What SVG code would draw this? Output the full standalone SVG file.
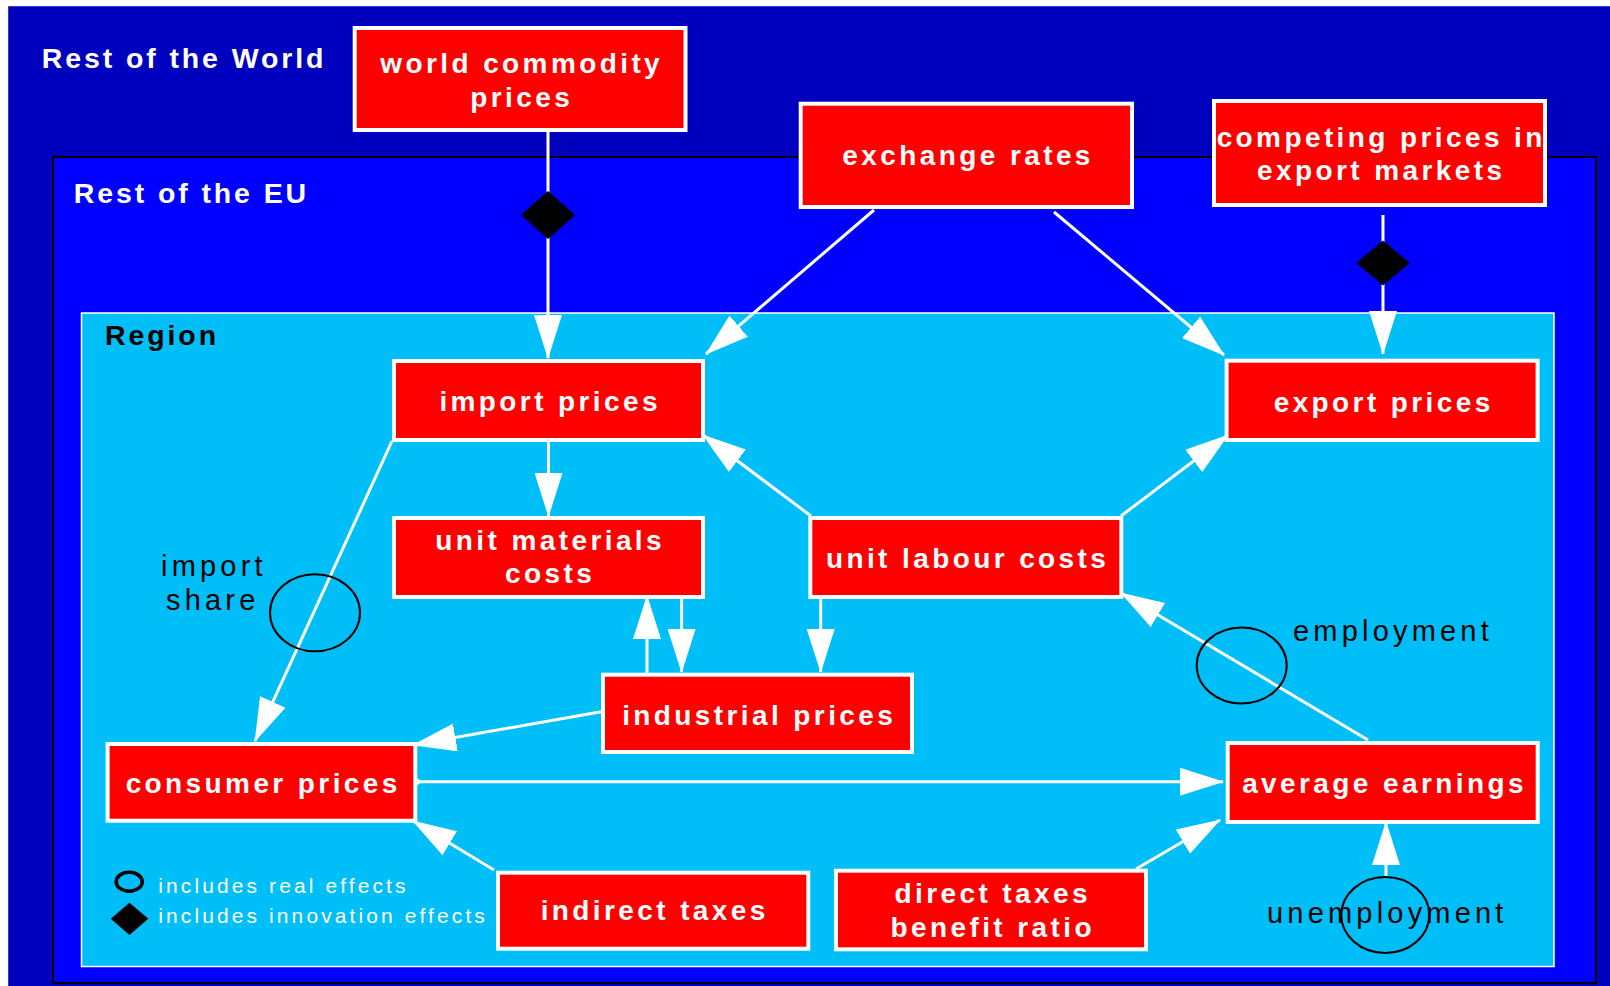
<svg xmlns="http://www.w3.org/2000/svg" width="1610" height="986" viewBox="0 0 1610 986">
<defs>
<style>
.box{fill:#ff0000;stroke:#ffffff;stroke-width:4}
.bt{font-family:"Liberation Sans",Arial,sans-serif;font-weight:bold;font-size:28px;letter-spacing:3.4px;fill:#ffffff;text-anchor:middle}
.hd{font-family:"Liberation Sans",Arial,sans-serif;font-weight:bold;font-size:28.5px;letter-spacing:2.9px}
.lb{font-family:"Liberation Sans",Arial,sans-serif;font-size:29px;letter-spacing:4.2px;fill:#000000}
.lg{font-family:"Liberation Sans",Arial,sans-serif;font-size:21px;letter-spacing:3.1px;fill:#ffffff}
.ln{stroke:#ffffff;stroke-width:3;fill:none}
.ar{marker-end:url(#ah)}
.ring{fill:none;stroke:#000000;stroke-width:2}
</style>
<marker id="ah" markerUnits="userSpaceOnUse" markerWidth="44" markerHeight="28" viewBox="0 0 44 28" refX="43" refY="14" orient="auto">
<path d="M0,0 L44,14 L0,28 Z" fill="#ffffff"/>
</marker>
</defs>
<rect x="0" y="0" width="1610" height="986" fill="#ffffff"/>
<g id="rest-of-world">
<rect x="8.5" y="6.5" width="1602" height="981" fill="#0000bf" stroke="#3a3ad0" stroke-width="1"/>
<text class="hd" x="41.7" y="67.7" fill="#ffffff">Rest of the World</text>
</g>
<g id="rest-of-eu">
<rect x="53" y="157" width="1543" height="826" fill="#0000ff" stroke="#000000" stroke-width="2"/>
<text class="hd" x="73.7" y="203.3" fill="#ffffff">Rest of the EU</text>
</g>
<g id="region">
<rect x="81.5" y="313" width="1472.5" height="653.5" fill="#00bff8" stroke="#ffffff" stroke-width="1.5"/>
<text class="hd" x="105" y="345" fill="#000000">Region</text>
</g>

<g id="connectors">
<line class="ln ar" x1="548" y1="132" x2="548" y2="358"/>
<line class="ln ar" x1="874" y1="210" x2="706" y2="354"/>
<line class="ln ar" x1="1054" y1="212" x2="1224" y2="355"/>
<line class="ln ar" x1="1383" y1="215" x2="1383" y2="354"/>
<line class="ln ar" x1="548.5" y1="441" x2="548.5" y2="516"/>
<line class="ln ar" x1="392" y1="441" x2="255" y2="741"/>
<line class="ln ar" x1="811" y1="516" x2="703" y2="435"/>
<line class="ln ar" x1="1121" y1="516" x2="1228" y2="435"/>
<line class="ln ar" x1="681.6" y1="599" x2="681.6" y2="672"/>
<line class="ln ar" x1="647" y1="673" x2="647" y2="596"/>
<line class="ln ar" x1="820.7" y1="599" x2="820.7" y2="672"/>
<line class="ln ar" x1="601" y1="711.7" x2="413" y2="745"/>
<line class="ln ar" x1="494" y1="870" x2="413" y2="821"/>
<line class="ln ar" x1="417" y1="781.7" x2="1223" y2="781.7"/>
<circle cx="417" cy="781.7" r="3" fill="#ffffff"/>
<line class="ln ar" x1="1136" y1="869" x2="1220" y2="820"/>
<line class="ln ar" x1="1386" y1="878" x2="1386" y2="822"/>
<line class="ln ar" x1="1368" y1="740" x2="1121" y2="593"/>
<polygon points="548,191 575,215 548,239 521,215" fill="#000000"/>
<polygon points="1383,240.5 1409.7,263 1383,285.5 1356.3,263" fill="#000000"/>
<ellipse class="ring" cx="315" cy="612.7" rx="45" ry="38.5"/>
<ellipse class="ring" cx="1241.7" cy="665.5" rx="45" ry="38"/>
<ellipse class="ring" cx="1385.3" cy="915" rx="44" ry="38"/>
</g>

<g id="world-commodity-prices">
<rect class="box" x="354.7" y="28" width="330.8" height="102"/>
<text class="bt" x="521.7" y="73.3">world commodity</text>
<text class="bt" x="521.7" y="106.7">prices</text>
</g>
<g id="exchange-rates">
<rect class="box" x="800.7" y="103.7" width="331.3" height="103.3"/>
<text class="bt" x="968.1" y="165">exchange rates</text>
</g>
<g id="competing-prices">
<rect class="box" x="1214" y="101" width="331" height="104"/>
<text class="bt" x="1381.2" y="146.7">competing prices in</text>
<text class="bt" x="1381.2" y="180">export markets</text>
</g>
<g id="import-prices">
<rect class="box" x="394" y="361" width="309" height="79"/>
<text class="bt" x="550.2" y="411">import prices</text>
</g>
<g id="export-prices">
<rect class="box" x="1226.6" y="360.7" width="311" height="79.3"/>
<text class="bt" x="1383.7" y="411.7">export prices</text>
</g>
<g id="unit-materials-costs">
<rect class="box" x="394" y="518" width="309" height="79"/>
<text class="bt" x="550.2" y="550">unit materials</text>
<text class="bt" x="550.2" y="583.3">costs</text>
</g>
<g id="unit-labour-costs">
<rect class="box" x="810.3" y="518" width="311" height="79"/>
<text class="bt" x="967.6" y="568.3">unit labour costs</text>
</g>
<g id="industrial-prices">
<rect class="box" x="603" y="674.7" width="309" height="77.3"/>
<text class="bt" x="759.2" y="725">industrial prices</text>
</g>
<g id="consumer-prices">
<rect class="box" x="107.6" y="744" width="307.7" height="76.7"/>
<text class="bt" x="263.2" y="793.3">consumer prices</text>
</g>
<g id="average-earnings">
<rect class="box" x="1227.7" y="743" width="310" height="79"/>
<text class="bt" x="1384.5" y="793.3">average earnings</text>
</g>
<g id="indirect-taxes">
<rect class="box" x="498" y="872.7" width="310.3" height="76"/>
<text class="bt" x="654.7" y="920">indirect taxes</text>
</g>
<g id="direct-taxes">
<rect class="box" x="836" y="870.7" width="310" height="78.6"/>
<text class="bt" x="992.7" y="903.3">direct taxes</text>
<text class="bt" x="992.7" y="936.7">benefit ratio</text>
</g>

<g id="labels">
<text class="lb" x="161" y="576">import</text>
<text class="lb" x="166" y="610">share</text>
<text class="lb" x="1293" y="640.7">employment</text>
<text class="lb" x="1267" y="922.7">unemployment</text>
</g>
<g id="legend">
<ellipse cx="129.2" cy="881.7" rx="13" ry="9.5" fill="none" stroke="#000000" stroke-width="3.6"/>
<polygon points="129.5,902.7 148.3,918.8 129.5,935 110.7,918.8" fill="#000000"/>
<text class="lg" x="158.3" y="892.7">includes real effects</text>
<text class="lg" x="158.3" y="923.3">includes innovation effects</text>
</g>
</svg>
